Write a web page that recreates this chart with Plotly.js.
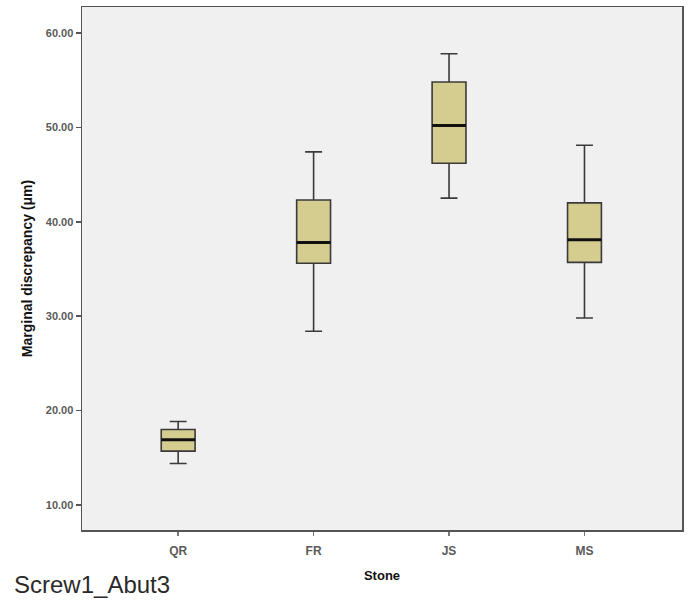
<!DOCTYPE html>
<html>
<head>
<meta charset="utf-8">
<script src="https://cdn.plot.ly/plotly-3.0.1.min.js"></script>
<style>
html,body{margin:0;padding:0;background:#fff;}
#chart{width:692px;height:604px;}
</style>
</head>
<body>
<div id="chart"></div>
<script>
var categories = ['QR', 'FR', 'JS', 'MS'];
var lowerWhisker = [14.4, 28.4, 42.5, 29.8];
var q1 = [15.7, 35.6, 46.2, 35.7];
var median = [16.9, 37.8, 50.2, 38.1];
var q3 = [18.0, 42.3, 54.8, 42.0];
var upperWhisker = [18.85, 47.4, 57.8, 48.1];
var yTicks = [10, 20, 30, 40, 50, 60];
var yTickText = ['10.00', '20.00', '30.00', '40.00', '50.00', '60.00'];

var boxWidth = 0.25;

var trace = {
  type: 'box',
  x: categories,
  q1: q1,
  median: median,
  q3: q3,
  lowerfence: lowerWhisker,
  upperfence: upperWhisker,
  width: boxWidth,
  whiskerwidth: 0.5,
  fillcolor: 'rgb(212,205,143)',
  line: {color: '#3a3a3a', width: 1.6},
  boxpoints: false,
  hoverinfo: 'skip',
  showlegend: false
};

var shapes = categories.map(function (c, i) {
  return {
    type: 'line', xref: 'x', yref: 'y',
    x0: i - boxWidth / 2, x1: i + boxWidth / 2,
    y0: median[i], y1: median[i],
    line: {color: '#111', width: 3}
  };
});

var layout = {
  width: 692, height: 604,
  margin: {l: 82, r: 10, t: 7, b: 74},
  paper_bgcolor: '#ffffff',
  plot_bgcolor: 'rgb(240,240,240)',
  font: {family: 'Liberation Sans, Arial, sans-serif', color: '#555'},
  xaxis: {
    type: 'category',
    range: [-0.71, 3.72],
    showgrid: false, zeroline: false,
    showline: true, linecolor: '#555', linewidth: 1.5, mirror: true,
    ticks: 'outside', ticklen: 4, tickcolor: '#777', tickwidth: 1.5,
    ticklabelstandoff: 5,
    tickfont: {size: 12, color: '#5a5a5a', weight: 'bold'},
    title: {text: '<b>Stone</b>', font: {size: 13, color: '#111'}, standoff: 14}
  },
  yaxis: {
    range: [7.35, 62.75],
    tickvals: yTicks, ticktext: yTickText,
    showgrid: false, zeroline: false,
    showline: true, linecolor: '#555', linewidth: 1.5, mirror: true,
    ticks: 'outside', ticklen: 5, tickcolor: '#555', tickwidth: 1.5,
    tickfont: {size: 11, color: '#5a5a5a', weight: 'bold'},
    title: {text: '<b>Marginal discrepancy (μm)</b>', font: {size: 14, color: '#111'}, standoff: 10}
  },
  shapes: shapes,
  annotations: [{
    text: 'Screw1_Abut3', xref: 'paper', yref: 'paper',
    x: -0.117, y: -0.104, xanchor: 'left', yanchor: 'middle',
    showarrow: false,
    font: {family: 'Liberation Sans, Arial, sans-serif', size: 24, color: '#2a2a2a'}
  }]
};

Plotly.newPlot('chart', [trace], layout, {displayModeBar: false, staticPlot: true});
</script>
</body>
</html>
